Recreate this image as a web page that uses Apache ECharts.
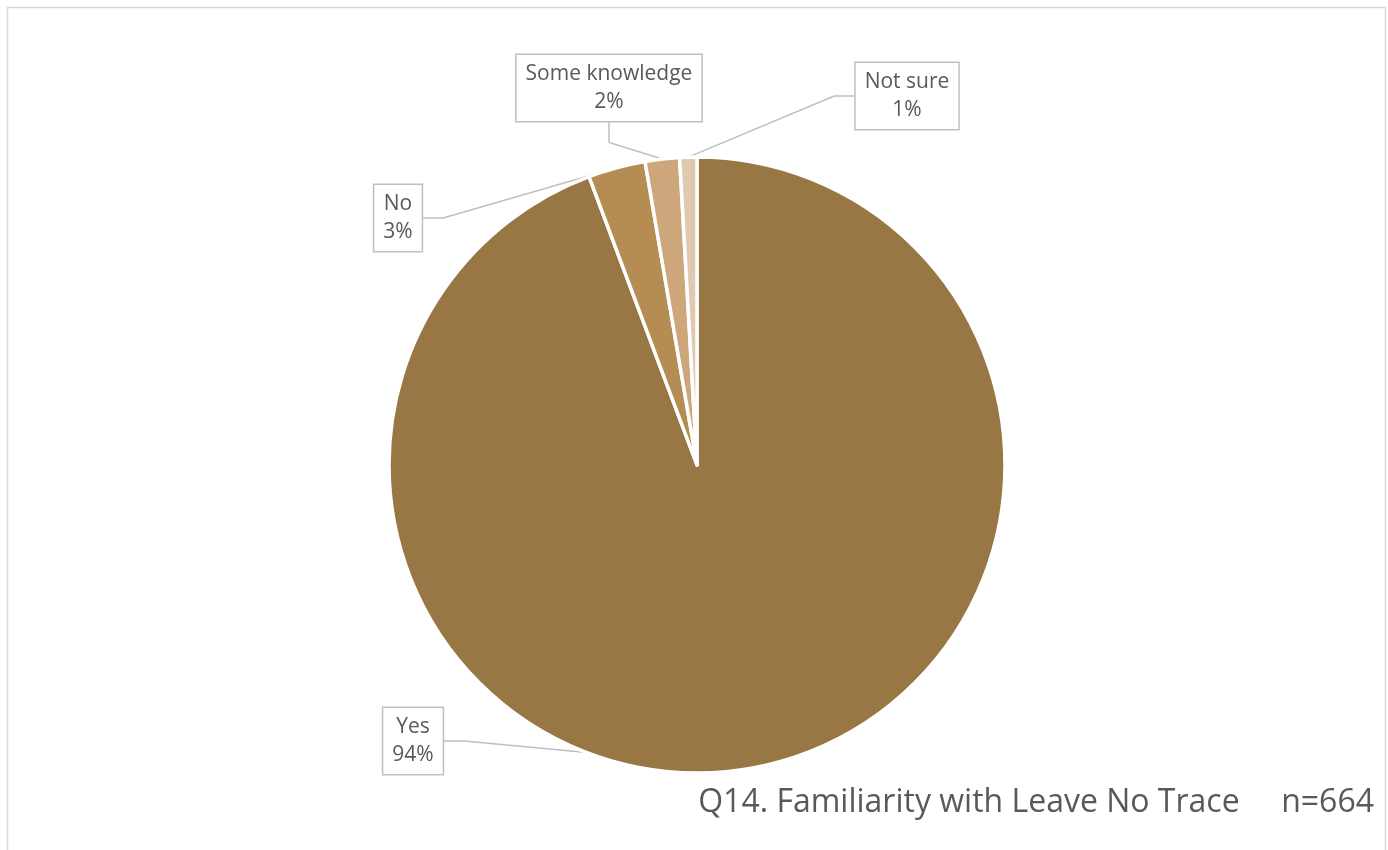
<!DOCTYPE html>
<html>
<head>
<meta charset="utf-8">
<script src="https://cdn.jsdelivr.net/npm/echarts@6/dist/echarts.min.js"></script>
<style>
html,body{margin:0;padding:0;background:#fff;}
#chart{width:1388px;height:850px;}
</style>
</head>
<body>
<div id="chart"></div>
<script>
const categories = ['Yes', 'No', 'Some knowledge', 'Not sure'];
const values = [94.3, 3.0, 1.8, 0.9];
const colors = ['#997744', '#B58D52', '#CDA67B', '#E0C9B1'];
const titleText = 'Q14. Familiarity with Leave No Trace     n=664';

// label box centre positions for callouts
const labelPos = [
  {x: 413, y: 741},
  {x: 398, y: 218},
  {x: 609, y: 88},
  {x: 907, y: 96}
];

const chart = echarts.init(document.getElementById('chart'), null, {renderer: 'canvas'});
chart.setOption({
  animation: false,
  backgroundColor: '#ffffff',
  graphic: [{
    type: 'rect',
    shape: {x: 7.5, y: 7.5, width: 1378, height: 900},
    style: {fill: 'none', stroke: '#d9d9d9', lineWidth: 1.5},
    silent: true
  }],
  title: {
    text: titleText,
    right: 9,
    top: 782,
    textStyle: {fontFamily: 'Open Sans', fontSize: 32, fontWeight: 'normal', color: '#595959'}
  },
  series: [{
    type: 'pie',
    center: [697, 465],
    radius: [0, 308],
    startAngle: 90,
    clockwise: true,
    percentPrecision: 0,
    data: categories.map((c, i) => ({name: c, value: values[i], itemStyle: {color: colors[i]}})),
    itemStyle: {borderColor: '#ffffff', borderWidth: 3.5},
    label: {
      show: true,
      formatter: '{b}\n{d}%',
      fontFamily: 'Open Sans',
      fontSize: 21,
      lineHeight: 28,
      color: '#595959',
      align: 'center',
      backgroundColor: '#ffffff',
      borderColor: '#bfbfbf',
      borderWidth: 1.5,
      padding: [5, 9, 5, 9]
    },
    labelLine: {
      show: true,
      lineStyle: {color: '#bfbfbf', width: 1.5},
      length: 20,
      length2: 20
    },
    labelLayout: function (params) {
      const p = labelPos[params.dataIndex];
      return {x: p.x, y: p.y, align: 'center', verticalAlign: 'middle'};
    },
    emphasis: {disabled: true}
  }]
});
</script>
</body>
</html>
